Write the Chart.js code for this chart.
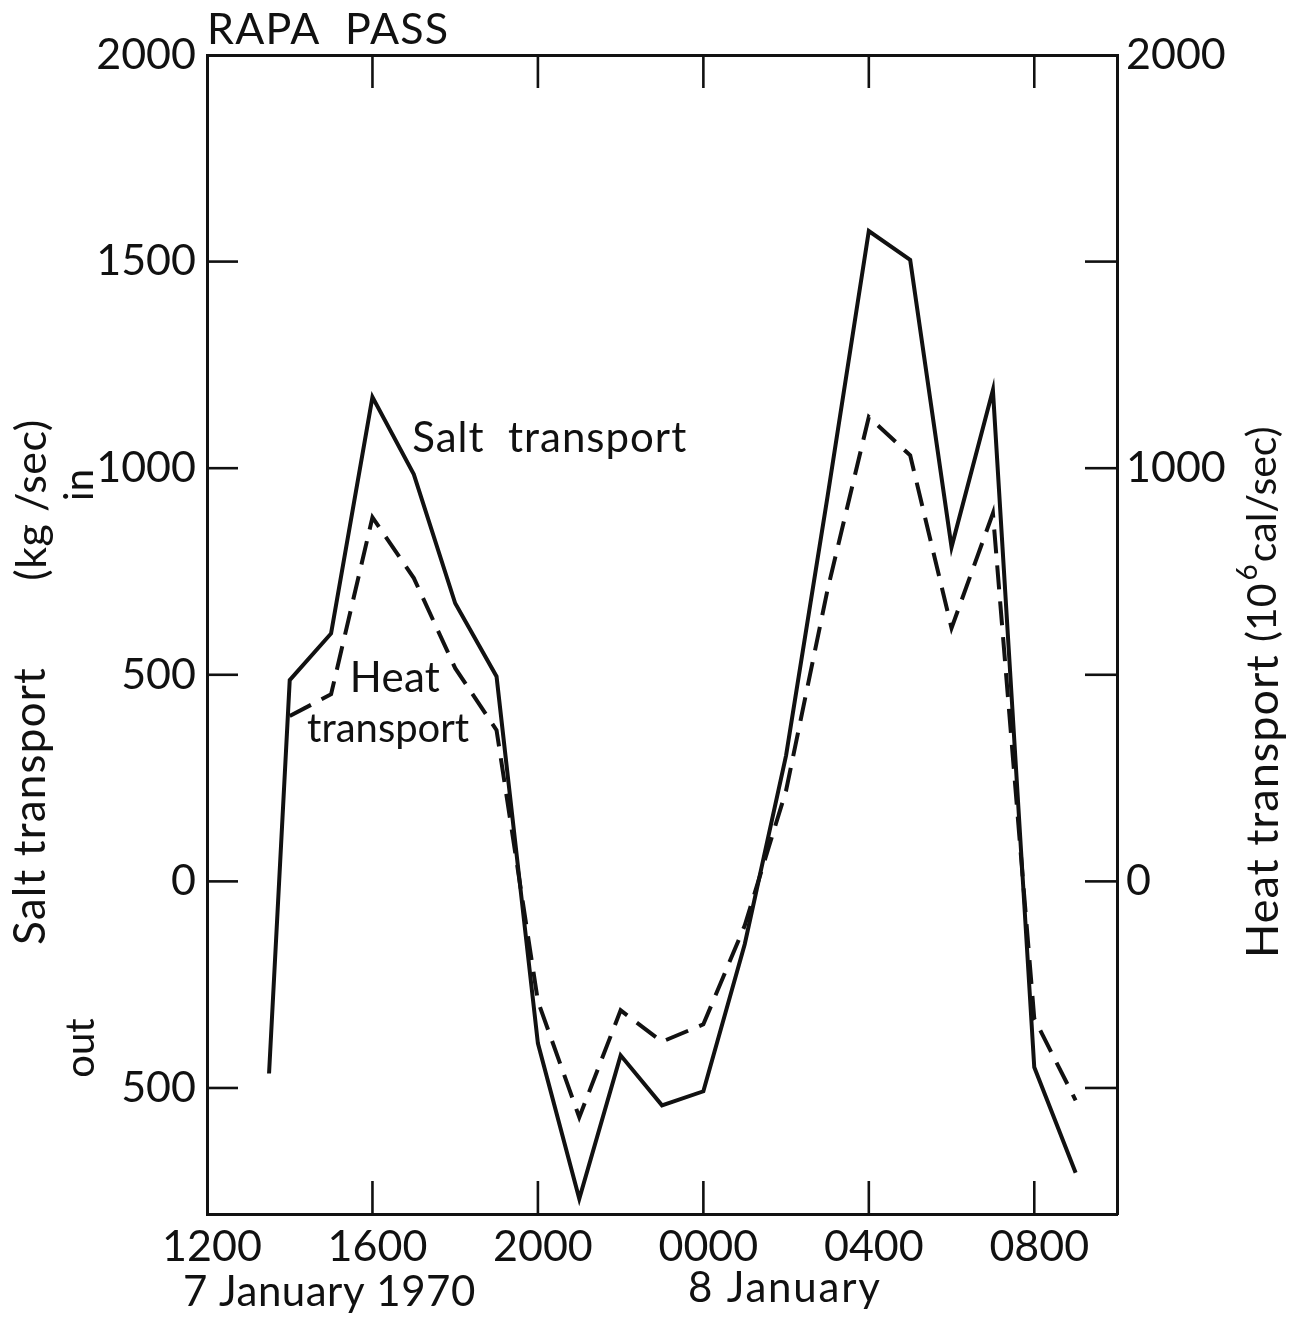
<!DOCTYPE html>
<html><head><meta charset="utf-8">
<script src="https://cdn.jsdelivr.net/npm/chart.js@4.4.0/dist/chart.umd.min.js"></script>
<style>html,body{margin:0;padding:0;background:#fff;}#wrap{width:1293px;height:1318px;}</style>
</head><body><div id="wrap"><canvas id="c" width="1293" height="1318"></canvas></div>
<script>
// hours after 1200 on 7 January 1970
const saltHours  = [1.5, 2, 3, 4, 5, 6, 7, 8, 9, 10, 11, 12, 13, 14, 15, 16, 17, 18, 19, 20, 21];
const saltValues = [-465, 487, 600, 1172, 985, 673, 496, -392, -768, -421, -542, -508, -152, 305, 930, 1574, 1504, 809, 1189, -450, -705];
const heatHours  = [2, 3, 4, 5, 6, 7, 8, 9, 10, 11, 12, 13, 14, 15, 16, 17, 18, 19, 20, 21];
const heatValues = [400, 453, 881, 734, 516, 366, -290, -571, -312, -388, -346, -107, 220, 705, 1124, 1031, 613, 891, -332, -530];
const xTickHours  = [0, 4, 8, 12, 16, 20];
const xTickLabels = ['1200', '1600', '2000', '0000', '0400', '0800'];
const yTickValues = [2000, 1500, 1000, 500, 0, -500];
const yTickLabels = ['2000', '1500', '1000', '500', '0', '500'];
const y2TickLabels = ['2000', '', '1000', '', '0', ''];
const innerXTicks = [4, 8, 12, 16, 20];
const innerYTicks = [1500, 1000, 500, 0, -500];
const titleText = 'RAPA  PASS';
const annotations = [
  {text: 'Salt  transport', x: 4.96, y: 1039, size: 42, spacing: 1},
  {text: 'Heat', x: 3.45, y: 458, size: 42, spacing: 0.3},
  {text: 'transport', x: 2.42, y: 337, size: 40, spacing: 0}
];

const INK = '#111';
const FONT = 'Lato';
const tickFont = {family: FONT, size: 43};

const inwardPlugin = {
  id: 'inward',
  afterDraw(chart) {
    const ctx = chart.ctx;
    const {left, right, top, bottom} = chart.chartArea;
    const xs = chart.scales.x, ys = chart.scales.y;
    ctx.save();
    ctx.strokeStyle = INK; ctx.lineWidth = 2.6; ctx.lineCap = 'butt';
    const line = (a, b, c, d) => { ctx.beginPath(); ctx.moveTo(a, b); ctx.lineTo(c, d); ctx.stroke(); };
    innerXTicks.forEach(h => { const p = xs.getPixelForValue(h); line(p, bottom, p, bottom - 33); line(p, top, p, top + 33); });
    innerYTicks.forEach(v => { const p = ys.getPixelForValue(v); line(left, p, left + 31, p); line(right, p, right - 32, p); });
    ctx.restore();

    const htext = (txt, x, y, size, spacing) => {
      ctx.save();
      ctx.fillStyle = INK; ctx.textAlign = 'left'; ctx.textBaseline = 'alphabetic';
      ctx.font = `${size}px ${FONT}`;
      ctx.letterSpacing = `${spacing || 0}px`;
      ctx.fillText(txt, x, y);
      ctx.restore();
    };
    htext(titleText, left, 44, 43, 1.2);
    annotations.forEach(a => htext(a.text, xs.getPixelForValue(a.x), ys.getPixelForValue(a.y), a.size, a.spacing));
    htext('7 January 1970', 183, 1306, 42, 0.5);
    htext('8 January', 688, 1302, 42, 1.8);

    const vtext = (txt, x, y, size, spacing) => {
      ctx.save(); ctx.translate(x, y); ctx.rotate(-Math.PI / 2);
      ctx.font = `${size}px ${FONT}`; ctx.fillStyle = INK; ctx.textAlign = 'center'; ctx.textBaseline = 'middle';
      ctx.letterSpacing = `${spacing || 0}px`;
      ctx.fillText(txt, 0, 0); ctx.restore();
    };
    vtext('Salt transport', 31, 806, 44, 1.2);
    vtext('(kg /sec)', 32, 500, 43, 0.5);
    vtext('in', 80, 485, 40, 0);
    vtext('out', 81, 1048, 40, 0);

    // right axis title with superscript
    ctx.save();
    ctx.translate(1263, 958); ctx.rotate(-Math.PI / 2);
    ctx.fillStyle = INK; ctx.textAlign = 'left'; ctx.textBaseline = 'middle';
    ctx.letterSpacing = '1px';
    ctx.font = `45px ${FONT}`;
    const p1 = 'Heat transport ';
    ctx.fillText(p1, 0, 0);
    let w = ctx.measureText(p1).width;
    ctx.letterSpacing = '0px';
    ctx.font = `41px ${FONT}`;
    ctx.fillText('(10', w, 0);
    w += ctx.measureText('(10').width;
    ctx.font = `28px ${FONT}`;
    ctx.fillText('6', w + 3, -15);
    w += ctx.measureText('6').width + 5;
    ctx.font = `41px ${FONT}`;
    ctx.fillText('cal/sec)', w, 0);
    ctx.restore();
  }
};

const ticksFrom = (vals) => (s) => { s.ticks = vals.map(v => ({value: v})); };

new Chart(document.getElementById('c'), {
  type: 'line',
  data: {
    datasets: [
      {label: 'Salt transport', data: saltHours.map((h, i) => ({x: h, y: saltValues[i]})),
       borderColor: INK, borderWidth: 4, pointRadius: 0, tension: 0, fill: false, yAxisID: 'y', xAxisID: 'x'},
      {label: 'Heat transport', data: heatHours.map((h, i) => ({x: h, y: heatValues[i]})),
       borderColor: INK, borderWidth: 4, borderDash: [24, 12], pointRadius: 0, tension: 0, fill: false, yAxisID: 'y2', xAxisID: 'x'}
    ]
  },
  options: {
    responsive: false, animation: false, devicePixelRatio: 1,
    layout: {padding: 0},
    plugins: {legend: {display: false}, tooltip: {enabled: false}, title: {display: false}},
    scales: {
      x: {type: 'linear', position: 'bottom', min: 0, max: 22,
          afterBuildTicks: ticksFrom(xTickHours),
          ticks: {callback: (v, i) => xTickLabels[i], font: tickFont, color: INK, padding: 7, labelOffset: 5, maxRotation: 0, autoSkip: false},
          grid: {display: false, drawTicks: false}, border: {display: true, width: 3, color: INK},
          afterFit: s => { s.height = 104; }},
      x2: {type: 'linear', position: 'top', min: 0, max: 22,
          ticks: {display: false}, grid: {display: false, drawTicks: false}, border: {display: true, width: 3, color: INK},
          afterFit: s => { s.height = 55; }},
      y: {type: 'linear', position: 'left', min: -805, max: 2000,
          afterBuildTicks: ticksFrom(yTickValues),
          ticks: {callback: (v, i) => yTickLabels[i], font: tickFont, color: INK, padding: 11, autoSkip: false},
          grid: {display: false, drawTicks: false}, border: {display: true, width: 3, color: INK},
          afterFit: s => { s.width = 207; }},
      y2: {type: 'linear', position: 'right', min: -805, max: 2000,
          afterBuildTicks: ticksFrom(yTickValues),
          ticks: {callback: (v, i) => y2TickLabels[i], font: tickFont, color: INK, padding: 9, autoSkip: false},
          grid: {display: false, drawTicks: false}, border: {display: true, width: 3, color: INK},
          afterFit: s => { s.width = 176; }}
    }
  },
  plugins: [inwardPlugin]
});
</script></body></html>
